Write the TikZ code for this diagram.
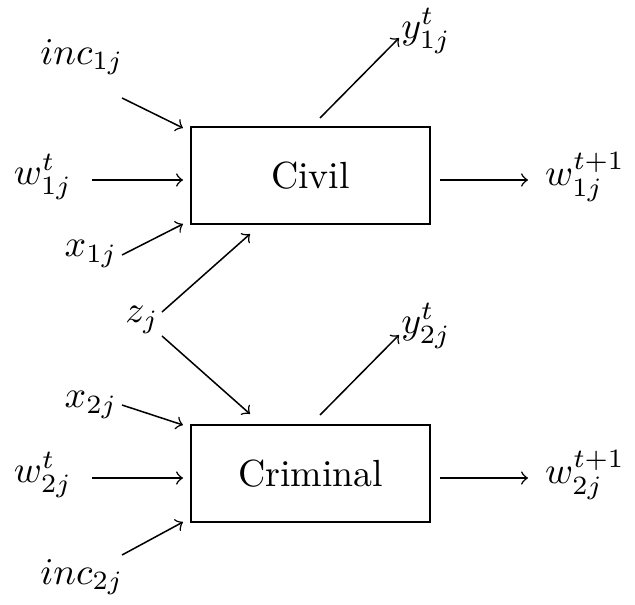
\documentclass[tikz,border=0pt]{standalone}
\begin{document}
\begin{tikzpicture}[x=0.2646pt,y=-0.2646pt,
  box/.style={draw,line width=0.5pt,minimum width=239*0.2646pt,minimum height=97*0.2646pt,inner sep=0pt},
  lab/.style={inner sep=0pt},
  arr/.style={->,line width=0.4pt}]
\useasboundingbox (0,0) rectangle (635,604);
\node[box] (civil) at (310.5,175.5) {Civil};
\node[box] (crim) at (310.5,473.5) {Criminal};
\node[lab] (inc1) at (82,57) {$inc_{1j}$};
\node[lab] (w1) at (43,177) {$w^t_{1j}$};
\node[lab] (x1) at (91,254) {$x_{1j}$};
\node[lab] (z) at (142,320) {$z_j$};
\node[lab] (y1) at (426,31) {$y^t_{1j}$};
\node[lab] (w1o) at (585,177) {$w^{t+1}_{1j}$};
\node[lab] (x2) at (91,405) {$x_{2j}$};
\node[lab] (w2) at (43,475) {$w^t_{2j}$};
\node[lab] (inc2) at (82,577) {$inc_{2j}$};
\node[lab] (y2) at (426,326) {$y^t_{2j}$};
\node[lab] (w2o) at (585,475) {$w^{t+1}_{2j}$};
% endpoints
\coordinate (a1) at (122,98); \coordinate (b1) at (183,128);
\coordinate (a2) at (92,180); \coordinate (b2) at (183,180);
\coordinate (a3) at (122,255); \coordinate (b3) at (183,224);
\coordinate (a4) at (162,312); \coordinate (b4) at (250,234);
\coordinate (a5) at (162,336); \coordinate (b5) at (250,414);
\coordinate (a6) at (320,118); \coordinate (b6) at (399,38);
\coordinate (a7) at (440,180); \coordinate (b7) at (528,180);
\coordinate (a8) at (122,405); \coordinate (b8) at (183,425);
\coordinate (a9) at (92,478); \coordinate (b9) at (183,478);
\coordinate (a10) at (122,555); \coordinate (b10) at (183,522);
\coordinate (a11) at (320,415); \coordinate (b11) at (399,335);
\coordinate (a12) at (440,478); \coordinate (b12) at (528,478);
\foreach \i in {1,...,12} {\draw[arr] (a\i) -- (b\i);}
\end{tikzpicture}
\end{document}
